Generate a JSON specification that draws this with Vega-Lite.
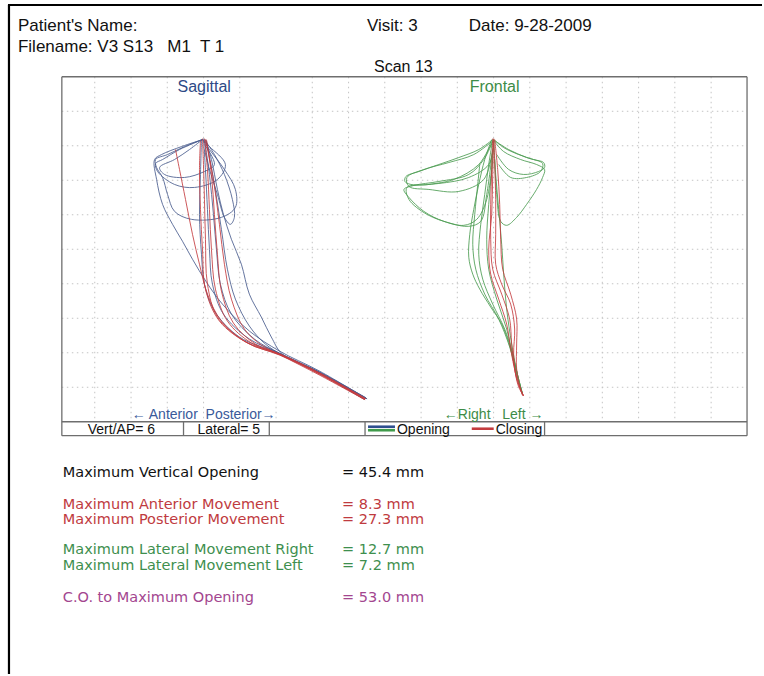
{
  "$schema": "https://vega.github.io/schema/vega-lite/v6.json",
  "width": 764,
  "height": 676,
  "autosize": {"type": "fit", "contains": "padding"},
  "padding": 0,
  "background": "white",
  "config": {"view": {"stroke": null}},
  "datasets": {
    "segs": [
      {"k": "pg", "x": 8, "y": 5, "x2": 764, "y2": 5},
      {"k": "pg", "x": 9, "y": 5, "x2": 9, "y2": 676},
      {"k": "gr", "x": 95, "y": 77, "x2": 95, "y2": 423},
      {"k": "gr", "x": 131.4, "y": 77, "x2": 131.4, "y2": 423},
      {"k": "gr", "x": 167.7, "y": 77, "x2": 167.7, "y2": 423},
      {"k": "gr", "x": 204.1, "y": 77, "x2": 204.1, "y2": 423},
      {"k": "gr", "x": 240.4, "y": 77, "x2": 240.4, "y2": 423},
      {"k": "gr", "x": 276.8, "y": 77, "x2": 276.8, "y2": 423},
      {"k": "gr", "x": 313.1, "y": 77, "x2": 313.1, "y2": 423},
      {"k": "gr", "x": 349.5, "y": 77, "x2": 349.5, "y2": 423},
      {"k": "gr", "x": 385.8, "y": 77, "x2": 385.8, "y2": 423},
      {"k": "gr", "x": 422.2, "y": 77, "x2": 422.2, "y2": 423},
      {"k": "gr", "x": 458.5, "y": 77, "x2": 458.5, "y2": 423},
      {"k": "gr", "x": 494.9, "y": 77, "x2": 494.9, "y2": 423},
      {"k": "gr", "x": 531.2, "y": 77, "x2": 531.2, "y2": 423},
      {"k": "gr", "x": 567.6, "y": 77, "x2": 567.6, "y2": 423},
      {"k": "gr", "x": 603.9, "y": 77, "x2": 603.9, "y2": 423},
      {"k": "gr", "x": 640.3, "y": 77, "x2": 640.3, "y2": 423},
      {"k": "gr", "x": 676.6, "y": 77, "x2": 676.6, "y2": 423},
      {"k": "gr", "x": 713, "y": 77, "x2": 713, "y2": 423},
      {"k": "gr", "x": 62, "y": 111.6, "x2": 749, "y2": 111.6},
      {"k": "gr", "x": 62, "y": 146.2, "x2": 749, "y2": 146.2},
      {"k": "gr", "x": 62, "y": 180.8, "x2": 749, "y2": 180.8},
      {"k": "gr", "x": 62, "y": 215.4, "x2": 749, "y2": 215.4},
      {"k": "gr", "x": 62, "y": 250, "x2": 749, "y2": 250},
      {"k": "gr", "x": 62, "y": 284.6, "x2": 749, "y2": 284.6},
      {"k": "gr", "x": 62, "y": 319.2, "x2": 749, "y2": 319.2},
      {"k": "gr", "x": 62, "y": 353.8, "x2": 749, "y2": 353.8},
      {"k": "gr", "x": 62, "y": 388.4, "x2": 749, "y2": 388.4},
      {"k": "fr", "x": 62, "y": 77, "x2": 749, "y2": 77},
      {"k": "fr", "x": 62, "y": 77, "x2": 62, "y2": 437},
      {"k": "fr", "x": 749, "y": 77, "x2": 749, "y2": 437},
      {"k": "fr", "x": 62, "y": 437, "x2": 749, "y2": 437},
      {"k": "fr", "x": 62, "y": 423, "x2": 749, "y2": 423},
      {"k": "fr", "x": 184, "y": 423, "x2": 184, "y2": 437},
      {"k": "fr", "x": 270, "y": 423, "x2": 270, "y2": 437},
      {"k": "fr", "x": 366, "y": 423, "x2": 366, "y2": 437},
      {"k": "fr", "x": 546, "y": 423, "x2": 546, "y2": 437},
      {"k": "sb", "x": 369, "y": 428, "x2": 396, "y2": 428},
      {"k": "sg", "x": 369, "y": 431.5, "x2": 396, "y2": 431.5},
      {"k": "sr", "x": 473, "y": 430, "x2": 495, "y2": 430}
    ],
    "traces": [
      {"id": "s_o1", "c": "so", "xs": [203,182,162,155,157,163,173,183,193,207,223,250,280,320,368], "ys": [140,147,155,160,180,205,225,242,260,283,305,332,352,372,400]},
      {"id": "s_o2", "c": "so", "xs": [206,212,218,224,232,242,250,262,272,283,320,368], "ys": [140,160,190,215,240,265,295,318,338,355,373,400]},
      {"id": "s_o3", "c": "so", "xs": [204,206,208,210,213,224,250,280,318,367], "ys": [139,170,210,250,285,315,340,354,373,400]},
      {"id": "s_o4", "c": "so", "xs": [202,201,200,202,205,215,240,279,318,367], "ys": [140,175,215,255,285,312,338,354,372,399]},
      {"id": "s_o5", "c": "so", "xs": [205,210,214,217,221,232,255,281,319,368], "ys": [140,175,215,250,285,315,340,355,373,400]},
      {"id": "s_o6", "c": "so", "xs": [207,215,222,228,236,250,266,283,320,366], "ys": [141,185,230,270,300,327,345,356,374,401]},
      {"id": "s_l1", "c": "so", "xs": [203,185,168,156,157,163,168,175,192,222,236,236,225,210,203], "ys": [140,147,155,160,168,178,195,212,220,218,208,190,170,150,140]},
      {"id": "s_l2", "c": "so", "xs": [203,190,175,160,165,185,205,215,205], "ys": [140,150,160,168,175,178,172,165,145]},
      {"id": "s_l3", "c": "so", "xs": [203,180,163,156,158,175,195,218,226,210,203], "ys": [140,150,160,164,172,185,188,180,165,147,140]},
      {"id": "s_l4", "c": "so", "xs": [205,215,225,233,235,231,225,218,210,205], "ys": [140,155,175,200,218,225,218,195,170,150]},
      {"id": "f_o1", "c": "fo", "xs": [493,486,480,475,471,470,474,481,492,503,512,517,523], "ys": [140,160,185,210,235,258,275,290,308,325,350,372,394]},
      {"id": "f_o2", "c": "fo", "xs": [494,490,486,482,480,484,494,506,514,519,524], "ys": [140,165,195,225,255,280,305,330,355,377,395]},
      {"id": "f_o3", "c": "fo", "xs": [495,493,490,488,490,498,508,515,520,524], "ys": [140,170,205,240,270,300,330,360,380,396]},
      {"id": "f_o4", "c": "fo", "xs": [495,497,500,503,505,508,513,518,524], "ys": [140,175,210,245,275,310,345,372,396]},
      {"id": "f_o5", "c": "fo", "xs": [481,479,476,474,477,486,500,511,518,524], "ys": [165,185,215,245,270,295,320,348,375,396]},
      {"id": "f_w1", "c": "fo", "xs": [494,480,460,440,420,407,406,412,440,470,490,495], "ys": [140,150,158,165,172,177,182,185,184,178,165,145]},
      {"id": "f_w2", "c": "fo", "xs": [494,485,470,440,415,405,410,425,445,465,478,488,494], "ys": [142,160,175,182,186,190,198,212,222,226,220,200,160]},
      {"id": "f_w3", "c": "fo", "xs": [493,475,450,425,408,410,430,460,485,494], "ys": [142,155,163,170,178,187,190,192,180,150]},
      {"id": "f_w4", "c": "fo", "xs": [494,480,455,430,408,410,428,452,470,482,488,494], "ys": [141,165,180,185,188,200,215,224,227,222,195,150]},
      {"id": "f_w5", "c": "fo", "xs": [495,505,520,535,545,546,540,525,510,498], "ys": [140,148,155,160,163,168,172,175,170,155]},
      {"id": "f_w6", "c": "fo", "xs": [495,505,522,538,546,544,538,528,518,508,502,498,496], "ys": [141,152,160,165,170,178,190,205,218,226,222,195,160]},
      {"id": "f_w7", "c": "fo", "xs": [496,510,528,544,542,528,512,500], "ys": [141,150,158,164,172,178,178,165]},
      {"id": "s_c1", "c": "cl", "xs": [203,204,205,206,208,218,245,280,320,366], "ys": [139,165,200,240,285,318,342,355,374,400]},
      {"id": "s_c2", "c": "cl", "xs": [205,208,210,212,216,228,252,282,320,366], "ys": [139,170,210,250,290,322,344,356,375,401]},
      {"id": "s_c3", "c": "cl", "xs": [207,212,215,218,222,234,256,283,322,367], "ys": [140,175,215,255,292,324,345,356,375,400]},
      {"id": "s_c4", "c": "cl", "xs": [201,200,201,203,206,220,248,280,318,365], "ys": [141,170,210,250,290,322,344,356,374,400]},
      {"id": "s_c5", "c": "cl", "xs": [206,214,220,225,232,245,262,283,320,366], "ys": [140,180,225,265,300,330,346,357,376,401]},
      {"id": "s_c6", "c": "cl", "xs": [176,180,186,193,200,208,222,248,281,320,366], "ys": [150,170,200,235,265,295,322,344,356,374,400]},
      {"id": "f_c1", "c": "cl", "xs": [495,496,497,497,497,503,512,516,515,518,525], "ys": [139,165,200,235,265,285,305,330,355,380,397]},
      {"id": "f_c2", "c": "cl", "xs": [494,493,492,492,494,503,511,513,516,520,525], "ys": [139,170,205,240,270,295,320,345,370,388,397]},
      {"id": "f_c3", "c": "cl", "xs": [496,499,501,502,504,512,518,518,518,522,525], "ys": [140,170,205,240,270,295,320,345,370,390,397]},
      {"id": "f_c4", "c": "cl", "xs": [495,494,493,490,492,500,508,512,517,524], "ys": [140,175,215,250,275,300,325,350,375,397]}
    ],
    "header": [
      {"t": "Patient's Name:", "x": 18, "y": 26},
      {"t": "Filename: V3 S13\u00a0\u00a0 M1\u00a0 T 1", "x": 18, "y": 47},
      {"t": "Visit: 3", "x": 368, "y": 26},
      {"t": "Date: 9-28-2009", "x": 470, "y": 26}
    ],
    "titles": [
      {"t": "Scan 13", "x": 375, "y": 67, "g": "k"},
      {"t": "Sagittal", "x": 178, "y": 87, "g": "b"},
      {"t": "Frontal", "x": 471, "y": 87, "g": "g"}
    ],
    "small": [
      {"t": "← Anterior\u00a0 Posterior→", "x": 132, "y": 416, "g": "b"},
      {"t": "←Right\u00a0\u00a0 Left →", "x": 445, "y": 416, "g": "g"},
      {"t": "Vert/AP= 6", "x": 88, "y": 431, "g": "k"},
      {"t": "Lateral= 5", "x": 198, "y": 431, "g": "k"},
      {"t": "Opening", "x": 398, "y": 431, "g": "k"},
      {"t": "Closing", "x": 497, "y": 431, "g": "k"}
    ],
    "stats": [
      {"t": "Maximum Vertical Opening", "x": 63, "y": 474, "g": "k"},
      {"t": "= 45.4 mm", "x": 343, "y": 474, "g": "k"},
      {"t": "Maximum Anterior Movement", "x": 63, "y": 506, "g": "r"},
      {"t": "= 8.3 mm", "x": 343, "y": 506, "g": "r"},
      {"t": "Maximum Posterior Movement", "x": 63, "y": 522, "g": "r"},
      {"t": "= 27.3 mm", "x": 343, "y": 522, "g": "r"},
      {"t": "Maximum Lateral Movement Right", "x": 63, "y": 552, "g": "gn"},
      {"t": "= 12.7 mm", "x": 343, "y": 552, "g": "gn"},
      {"t": "Maximum Lateral Movement Left", "x": 63, "y": 568, "g": "gn"},
      {"t": "= 7.2 mm", "x": 343, "y": 568, "g": "gn"},
      {"t": "C.O. to Maximum Opening", "x": 63, "y": 600, "g": "p"},
      {"t": "= 53.0 mm", "x": 343, "y": 600, "g": "p"}
    ]
  },
  "encoding": {
    "x": {"field": "x", "type": "quantitative", "scale": {"domain": [0, 764], "nice": false, "zero": false}, "axis": null},
    "y": {"field": "y", "type": "quantitative", "scale": {"domain": [0, 676], "reverse": true, "nice": false, "zero": false}, "axis": null}
  },
  "layer": [
    {
      "data": {"name": "segs"},
      "transform": [{"filter": "datum.k == 'gr'"}],
      "mark": {"type": "rule", "color": "#c4c4c4", "strokeWidth": 1, "strokeDash": [1.5, 3.5]},
      "encoding": {"x2": {"field": "x2"}, "y2": {"field": "y2"}}
    },
    {
      "data": {"name": "segs"},
      "transform": [{"filter": "datum.k == 'fr'"}],
      "mark": {"type": "rule", "color": "#6e6e6e", "strokeWidth": 1.3},
      "encoding": {"x2": {"field": "x2"}, "y2": {"field": "y2"}}
    },
    {
      "data": {"name": "segs"},
      "transform": [{"filter": "datum.k == 'pg'"}],
      "mark": {"type": "rule", "color": "#000000", "strokeWidth": 2.2},
      "encoding": {"x2": {"field": "x2"}, "y2": {"field": "y2"}}
    },
    {
      "data": {"name": "segs"},
      "transform": [{"filter": "datum.k == 'sb' || datum.k == 'sg' || datum.k == 'sr'"}],
      "mark": {"type": "rule", "strokeWidth": 2.6},
      "encoding": {
        "x2": {"field": "x2"}, "y2": {"field": "y2"},
        "color": {"field": "k", "type": "nominal", "scale": {"domain": ["sb", "sg", "sr"], "range": ["#2f4f8f", "#3f9a4a", "#c43c3f"]}, "legend": null}
      }
    },
    {
      "data": {"name": "traces"},
      "transform": [{"flatten": ["xs", "ys"], "as": ["x", "y"]}],
      "mark": {"type": "line", "interpolate": "catmull-rom", "strokeWidth": 1, "opacity": 0.85},
      "encoding": {
        "detail": {"field": "id", "type": "nominal"},
        "order": {"value": null},
        "color": {"field": "c", "type": "nominal", "scale": {"domain": ["so", "fo", "cl"], "range": ["#4a5d8e", "#4c9c52", "#c43c3f"]}, "legend": null}
      }
    },
    {
      "data": {"name": "header"},
      "mark": {"type": "text", "align": "left", "baseline": "middle", "font": "Liberation Sans", "fontSize": 17, "color": "#111111"},
      "encoding": {"text": {"field": "t"}}
    },
    {
      "data": {"name": "titles"},
      "mark": {"type": "text", "align": "left", "baseline": "middle", "font": "Liberation Sans", "fontSize": 16},
      "encoding": {
        "text": {"field": "t"},
        "color": {"field": "g", "type": "nominal", "scale": {"domain": ["k", "b", "g"], "range": ["#111111", "#2e4a86", "#3d8c47"]}, "legend": null}
      }
    },
    {
      "data": {"name": "small"},
      "mark": {"type": "text", "align": "left", "baseline": "middle", "font": "Liberation Sans", "fontSize": 14},
      "encoding": {
        "text": {"field": "t"},
        "color": {"field": "g", "type": "nominal", "scale": {"domain": ["k", "b", "g"], "range": ["#111111", "#3a5a9a", "#3d8c47"]}, "legend": null}
      }
    },
    {
      "data": {"name": "stats"},
      "mark": {"type": "text", "align": "left", "baseline": "middle", "font": "DejaVu Sans", "fontSize": 14.5},
      "encoding": {
        "text": {"field": "t"},
        "color": {"field": "g", "type": "nominal", "scale": {"domain": ["k", "r", "gn", "p"], "range": ["#111111", "#bf3b3f", "#3e8f4e", "#a3468f"]}, "legend": null}
      }
    }
  ],
  "resolve": {"scale": {"color": "independent"}}
}
